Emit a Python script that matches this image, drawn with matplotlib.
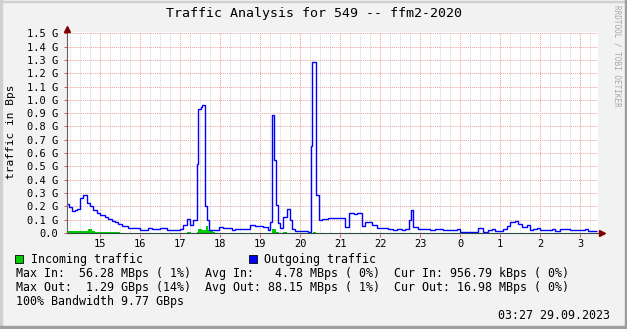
import numpy as np
import matplotlib
matplotlib.use('Agg')
import matplotlib.pyplot as plt
from matplotlib.patches import Rectangle
from matplotlib.ticker import MultipleLocator, FuncFormatter

W, H = 627, 329

# outgoing traffic: step start times (hours, >24 = next day) and values (GBps)
out_t = [14.15, 14.225, 14.29, 14.375, 14.43, 14.5, 14.58, 14.68, 14.75, 14.83,
         14.92, 15.0, 15.125, 15.21, 15.29, 15.375, 15.44, 15.55, 15.7, 16.0,
         16.2, 16.3, 16.425, 16.5, 16.675, 16.95, 17.0, 17.08, 17.17, 17.25,
         17.33, 17.42, 17.46, 17.525, 17.56, 17.63, 17.675, 17.73, 17.98, 18.08,
         18.29, 18.375, 18.75, 18.875, 19.08, 19.21, 19.24, 19.29, 19.36, 19.39,
         19.46, 19.5, 19.58, 19.67, 19.75, 19.79, 19.875, 20.21, 20.275, 20.31,
         20.39, 20.48, 20.54, 20.71, 21.125, 21.23, 21.35, 21.43, 21.54, 21.625,
         21.79, 21.92, 22.125, 22.21, 22.33, 22.42, 22.54, 22.625, 22.725, 22.77,
         22.82, 22.96, 23.075, 23.25, 23.375, 23.575, 23.92, 24.0, 24.29, 24.46,
         24.58, 24.71, 24.79, 24.875, 25.08, 25.17, 25.25, 25.375, 25.46, 25.54,
         25.67, 25.75, 25.83, 25.92, 26.0, 26.29, 26.375, 26.5, 26.67, 26.75,
         27.125, 27.21]
out_v = [0.215, 0.197, 0.165, 0.17, 0.18, 0.26, 0.283, 0.223, 0.2, 0.17,
         0.15, 0.135, 0.123, 0.105, 0.093, 0.082, 0.068, 0.052, 0.038, 0.025,
         0.035, 0.03, 0.033, 0.035, 0.02, 0.025, 0.032, 0.06, 0.105, 0.06,
         0.098, 0.515, 0.935, 0.948, 0.958, 0.2, 0.098, 0.023, 0.047, 0.04,
         0.025, 0.03, 0.058, 0.055, 0.045, 0.022, 0.085, 0.89, 0.547, 0.21,
         0.075, 0.035, 0.122, 0.178, 0.098, 0.03, 0.018, 0.01, 0.65, 1.285,
         0.285, 0.098, 0.105, 0.11, 0.043, 0.148, 0.145, 0.148, 0.052, 0.085,
         0.06, 0.035, 0.04, 0.03, 0.022, 0.03, 0.022, 0.03, 0.1, 0.172,
         0.043, 0.03, 0.027, 0.022, 0.027, 0.022, 0.03, 0.01, 0.005, 0.035,
         0.01, 0.022, 0.03, 0.018, 0.03, 0.052, 0.085, 0.09, 0.067, 0.043,
         0.06, 0.022, 0.03, 0.035, 0.022, 0.027, 0.015, 0.027, 0.03, 0.022,
         0.03, 0.018]

# incoming traffic
in_t = [14.15, 14.71, 14.79, 14.875, 15.5, 17.17, 17.27, 17.42, 17.46, 17.54,
        17.65, 17.71, 17.83, 17.875, 19.29, 19.4, 19.475, 19.58, 19.67, 20.325,
        20.4]
in_v = [0.018, 0.03, 0.012, 0.0075, 0.0, 0.006, 0.001, 0.008, 0.027, 0.022,
        0.052, 0.022, 0.006, 0.001, 0.027, 0.01, 0.001, 0.01, 0.001, 0.006,
        0.001]
t_end = 27.42

hours = list(range(15, 28))

title = 'Traffic Analysis for 549 -- ffm2-2020'
legend_lines = [
    'Max In:  56.28 MBps ( 1%)  Avg In:   4.78 MBps ( 0%)  Cur In: 956.79 kBps ( 0%)',
    'Max Out:  1.29 GBps (14%)  Avg Out: 88.15 MBps ( 1%)  Cur Out: 16.98 MBps ( 0%)',
    '100% Bandwidth 9.77 GBps',
]
stamp = '03:27 29.09.2023'

plt.rcParams['font.family'] = 'DejaVu Sans Mono'

fig = plt.figure(figsize=(W / 100, H / 100), dpi=100)
fig.patch.set_facecolor('#f2f2f2')


def fx(x):
    return x / W


def fy(y):
    return 1 - y / H


# frame shading
fig.patches.append(Rectangle((0, 0), fx(2), 1, transform=fig.transFigure, color='#cfcfcf', zorder=0))
fig.patches.append(Rectangle((0, fy(2)), 1, fx(2), transform=fig.transFigure, color='#cfcfcf', zorder=0))
fig.patches.append(Rectangle((fx(W - 2), 0), fx(2), 1, transform=fig.transFigure, color='#9e9e9e', zorder=0))
fig.patches.append(Rectangle((0, 0), 1, 3 / H, transform=fig.transFigure, color='#9e9e9e', zorder=0))

x0, x1, y0, y1 = 66.5, 598, 233.5, 32
ax = fig.add_axes([fx(x0), fy(y0), fx(x1 - x0), (y0 - y1) / H])
ax.set_facecolor('white')
pxg = 199.7 / 1.5
ax.set_ylim(-(y0 - 233) / pxg, (233 - y1) / pxg)
ax.set_xlim(12.5 + x0 / 40, 12.5 + x1 / 40)

for s in ax.spines.values():
    s.set_visible(False)

ax.yaxis.set_major_locator(MultipleLocator(0.1))
ax.xaxis.set_major_locator(MultipleLocator(1))
ax.xaxis.set_minor_locator(MultipleLocator(0.25))
ax.yaxis.set_major_formatter(FuncFormatter(lambda v, p: '0.0' if abs(v) < 1e-9 else '%.1f G' % v))
ax.xaxis.set_major_formatter(FuncFormatter(lambda v, p: '%d' % (int(round(v)) % 24)))
ax.tick_params(axis='y', length=2, width=0.7, color='#de5050', pad=4, labelsize=7.5)
ax.tick_params(axis='x', which='major', length=2, width=0.7, color='#de5050', pad=2, labelsize=7.5)
ax.tick_params(axis='x', which='minor', length=0)

ax.grid(True, axis='x', which='minor', color='#d2d2d2', lw=0.7, ls=(0, (1, 1)))
ax.grid(True, axis='both', which='major', color='#eaa0a0', lw=0.7, ls=(0, (1, 1)))
ax.set_axisbelow(True)

in_edges = list(in_t) + [t_end]
out_edges = list(out_t) + [t_end]
ax.stairs(in_v, in_edges, fill=True, color='#00cc00', zorder=3)
ax.stairs(out_v, out_edges, color='#0000ff', lw=1.0, zorder=4, baseline=None)

# axes with arrows
xl = 12.5 + 67 / 40
ax.plot([ax.get_xlim()[0], 12.5 + 601 / 40], [0, 0], color='#2c4d43', lw=0.8, clip_on=False, zorder=5)
ax.plot([12.5 + 602 / 40], [0], marker='>', ms=4, color='#7f0000', clip_on=False, zorder=6)
ax.plot([xl, xl], [0, (233 - 29) / pxg], color='#606060', lw=0.8, clip_on=False, zorder=5)
ax.plot([xl], [(233 - 29) / pxg], marker='^', ms=4, color='#7f0000', clip_on=False, zorder=6)

fig.text(fx(313.5), fy(14), title, ha='center', va='center', fontsize=9.5)
fig.text(fx(11), fy(132), 'traffic in Bps', rotation=90, ha='center', va='center', fontsize=8)
fig.text(fx(617), fy(5), 'RRDTOOL / TOBI OETIKER', rotation=270, ha='center', va='top',
         fontsize=5.5, color='#a8a8a8')

# legend
fig.patches.append(Rectangle((fx(15), fy(263)), fx(8), 8 / H, transform=fig.transFigure,
                             facecolor='#00cc00', edgecolor='black', lw=0.6))
fig.patches.append(Rectangle((fx(249), fy(263)), fx(8), 8 / H, transform=fig.transFigure,
                             facecolor='#0000ff', edgecolor='black', lw=0.6))
fs = 8.4
fig.text(fx(31), fy(263), 'Incoming traffic', va='baseline', fontsize=fs)
fig.text(fx(264), fy(263), 'Outgoing traffic', va='baseline', fontsize=fs)
for i, line in enumerate(legend_lines):
    fig.text(fx(16), fy(277 + 14 * i), line, va='baseline', fontsize=fs)
fig.text(fx(610), fy(319), stamp, ha='right', va='baseline', fontsize=fs)

fig.savefig('out.png', dpi=100, facecolor=fig.get_facecolor())
